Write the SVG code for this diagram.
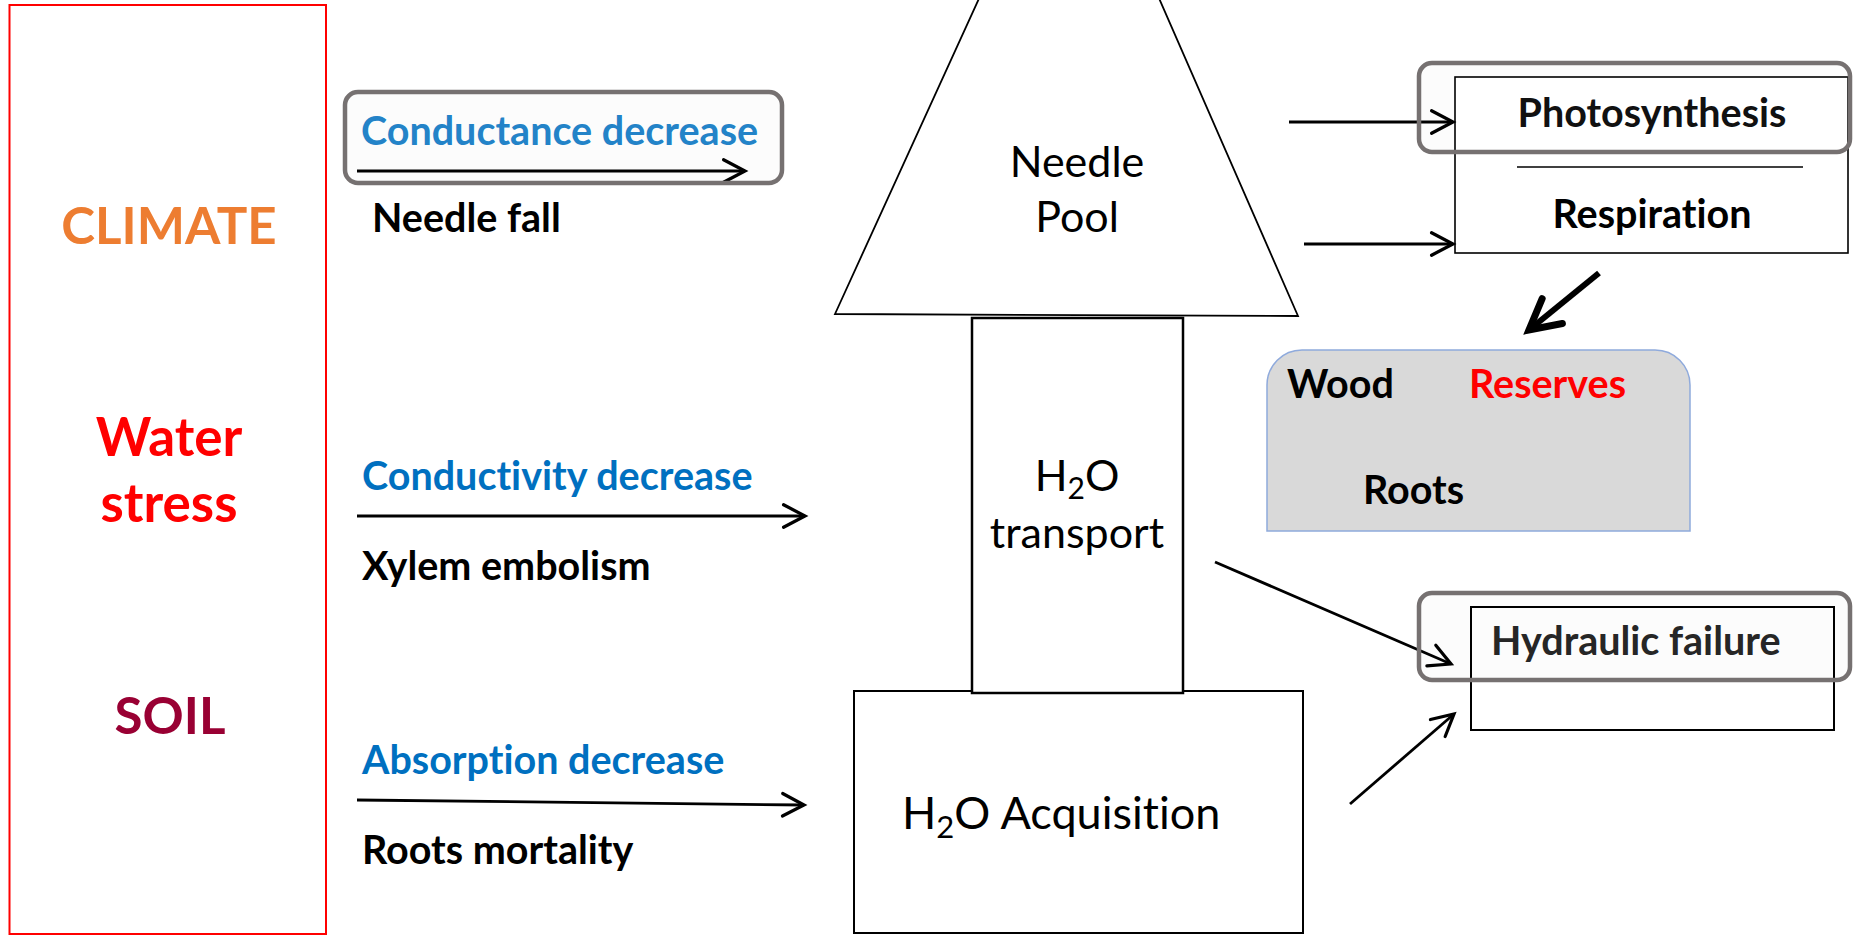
<svg xmlns="http://www.w3.org/2000/svg" width="1854" height="936" viewBox="0 0 1854 936">
  <style>
    text { font-variant-ligatures: none; }
    .lbl { font-family: Lato, "Liberation Sans", sans-serif; font-weight: bold; font-size: 39.5px; }
    .reg { font-family: Lato, "Liberation Sans", sans-serif; font-weight: normal; font-size: 43px; fill: #000; }
    .big { font-family: Lato, "Liberation Sans", sans-serif; font-weight: bold; font-size: 51px; text-anchor: middle; }
    .box { fill: #fff; stroke: #000; }
    .hl { fill: none; stroke: #767171; stroke-width: 4.5; }
    .hlfill { fill: #fcfcfc; stroke: none; }
    .arr { fill: none; stroke: #000; stroke-width: 2.8; marker-end: url(#head); }
  </style>
  <defs>
    <marker id="head" markerUnits="userSpaceOnUse" markerWidth="30" markerHeight="30" viewBox="-24 -14 28 28" refX="0" refY="0" orient="auto">
      <path d="M-20,-10.5 L0,0 L-20,10.5" fill="none" stroke="#000" stroke-width="3" stroke-linecap="round" stroke-linejoin="miter"/>
    </marker>
    <marker id="headBig" markerUnits="userSpaceOnUse" markerWidth="50" markerHeight="50" viewBox="-40 -25 50 50" refX="0" refY="0" orient="auto">
      <path d="M-30,-16 L0,0 L-30,16" fill="none" stroke="#000" stroke-width="7" stroke-linecap="round" stroke-linejoin="miter"/>
    </marker>
  </defs>

  <rect width="1854" height="936" fill="#fff"/>

  <!-- driver column -->
  <g id="drivers">
    <rect x="9.5" y="5" width="316.5" height="929" fill="none" stroke="#ff0000" stroke-width="2"/>
    <text class="big" x="169" y="244" fill="#ED7D31">CLIMATE</text>
    <text class="big" x="169" y="456" fill="#ff0000" style="font-size:53px">Water</text>
    <text class="big" x="169" y="522" fill="#ff0000" style="font-size:53px">stress</text>
    <text class="big" x="170" y="734" fill="#990033">SOIL</text>
  </g>

  <!-- impacts on the tree -->
  <g id="conductance">
    <rect class="hlfill" x="345" y="92" width="437" height="91" rx="13"/>
    <text class="lbl" x="361" y="145" fill="#2383C8">Conductance decrease</text>
    <text class="lbl" x="372" y="232" fill="#000">Needle fall</text>
  </g>
  <g id="conductivity">
    <text class="lbl" x="362" y="490" fill="#0070C0">Conductivity decrease</text>
    <text class="lbl" x="362" y="580" fill="#000">Xylem embolism</text>
  </g>
  <g id="absorption">
    <text class="lbl" x="362" y="774" fill="#0070C0">Absorption decrease</text>
    <text class="lbl" x="362" y="864" fill="#000">Roots mortality</text>
  </g>

  <!-- tree compartments -->
  <g id="needle-pool">
    <polygon points="835,314 1071,-203 1298,316" fill="#fff" stroke="#000" stroke-width="1.8"/>
    <text class="reg" x="1077" y="177" text-anchor="middle">Needle</text>
    <text class="reg" x="1077" y="232" text-anchor="middle">Pool</text>
  </g>
  <g id="h2o-acquisition">
    <rect class="box" x="854" y="691" width="449" height="242" stroke-width="2"/>
    <text class="reg" x="902" y="829" style="font-size:45px">H<tspan dy="9" style="font-size:31px">2</tspan><tspan dy="-9">O Acquisition</tspan></text>
  </g>
  <g id="h2o-transport">
    <rect class="box" x="972" y="318" width="211" height="375" stroke-width="2.5"/>
    <text class="reg" x="1077" y="491" text-anchor="middle">H<tspan dy="8" style="font-size:30px">2</tspan><tspan dy="-8">O</tspan></text>
    <text class="reg" x="1077" y="548" text-anchor="middle">transport</text>
  </g>

  <!-- carbon balance -->
  <g id="carbon-balance">
    <rect class="hlfill" x="1419" y="63" width="431" height="89" rx="13"/>
    <rect class="box" x="1455" y="77" width="393" height="176" stroke-width="1.6" fill="none"/>
    <line x1="1517" y1="167" x2="1803" y2="167" stroke="#000" stroke-width="1.6"/>
    <text class="lbl" x="1652" y="127" text-anchor="middle" fill="#111">Photosynthesis</text>
    <text class="lbl" x="1652" y="228" text-anchor="middle" fill="#000">Respiration</text>
  </g>
  <g id="reserves">
    <path d="M1267,531 L1267,385 A35,35 0 0 1 1302,350 L1655,350 A35,35 0 0 1 1690,385 L1690,531 Z" fill="#D9D9D9" stroke="#8FAADC" stroke-width="1.5"/>
    <text class="lbl" x="1287" y="398" fill="#000">Wood</text>
    <text class="lbl" x="1469" y="398" fill="#ff0000">Reserves</text>
    <text class="lbl" x="1363" y="504" fill="#000">Roots</text>
  </g>
  <g id="hydraulic-failure">
    <rect class="hlfill" x="1419" y="593" width="431" height="87" rx="13"/>
    <rect x="1471" y="607" width="363" height="123" fill="none" stroke="#000" stroke-width="2"/>
    <text class="lbl" x="1491" y="655" fill="#262626">Hydraulic failure</text>
  </g>

  <!-- connectors -->
  <g id="connectors">
    <line class="arr" x1="357" y1="171" x2="745" y2="171" stroke-width="2.5"/>
    <line class="arr" x1="357" y1="516" x2="805" y2="516"/>
    <line class="arr" x1="357" y1="800" x2="804" y2="805"/>
    <line class="arr" x1="1289" y1="122" x2="1453" y2="122"/>
    <line class="arr" x1="1304" y1="244" x2="1453" y2="244"/>
    <line x1="1599" y1="273" x2="1529" y2="330" stroke="#000" stroke-width="6" marker-end="url(#headBig)"/>
    <line class="arr" x1="1215" y1="562" x2="1451" y2="664"/>
    <line class="arr" x1="1350" y1="804" x2="1454" y2="714"/>
  </g>

  <!-- highlight outlines drawn over their contents -->
  <g id="highlights">
    <rect class="hl" x="345" y="92" width="437" height="91" rx="13"/>
    <rect class="hl" x="1419" y="63" width="431" height="89" rx="13"/>
    <rect class="hl" x="1419" y="593" width="431" height="87" rx="13"/>
  </g>
</svg>
